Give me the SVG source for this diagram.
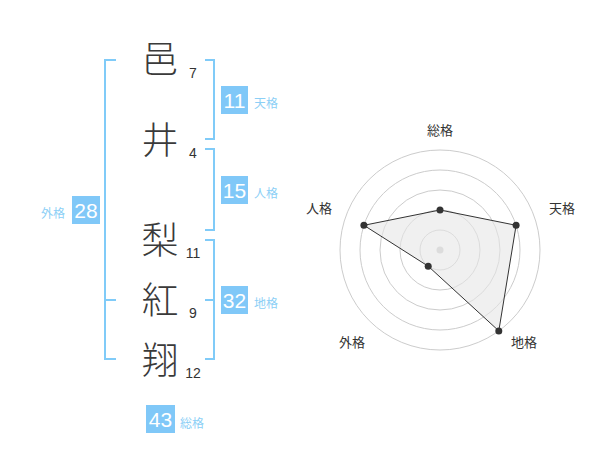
<svg xmlns="http://www.w3.org/2000/svg" width="600" height="470" viewBox="0 0 600 470">
<style>
.ch{font-family:"Noto Sans CJK JP","Noto Sans CJK SC",sans-serif;font-size:37px;font-weight:300;fill:#3a3a3a;text-anchor:middle}
.num{font-family:"Liberation Sans",Arial,sans-serif;font-size:14px;fill:#333;text-anchor:middle}
.br{fill:none;stroke:#80cbf8;stroke-width:2}
.box{fill:#80c8f8}
.bn{font-family:"Liberation Sans",Arial,sans-serif;font-size:21px;fill:#fff;text-anchor:middle}
.bl{font-family:"Noto Sans CJK JP",sans-serif;font-size:12px;fill:#8ccff6}
.rl{font-family:"Noto Sans CJK JP",sans-serif;font-size:13px;fill:#333;text-anchor:middle}
.ring{fill:none;stroke:#ccc;stroke-width:1}
.pt{fill:#333}
</style>
<g id="chars">
<g id="c1"><text class="ch" x="160" y="73">邑</text><text class="num" x="193" y="78">7</text></g>
<g id="c2"><text class="ch" x="160" y="154">井</text><text class="num" x="193" y="158">4</text></g>
<g id="c3"><text class="ch" x="160" y="254">梨</text><text class="num" x="193" y="258">11</text></g>
<g id="c4"><text class="ch" x="160" y="314">紅</text><text class="num" x="193" y="318">9</text></g>
<g id="c5"><text class="ch" x="160" y="374">翔</text><text class="num" x="193" y="378">12</text></g>
</g>
<g id="connectors">
<path class="br" d="M116,60 H105 V359 H116 M105,300 H116"/>
<path class="br" d="M205,60 H214 V139 H205"/>
<path class="br" d="M205,149 H214 V230 H205"/>
<path class="br" d="M205,240 H214 V359 H205 M205,300 H214"/>
</g>
<g id="tenkaku"><rect class="box" x="221" y="86" width="27" height="28"/><text class="bn" x="234.5" y="107.5">11</text><text class="bl" x="254" y="108">天格</text></g>
<g id="jinkaku"><rect class="box" x="221" y="176" width="27" height="28"/><text class="bn" x="234.5" y="197.5">15</text><text class="bl" x="254" y="198">人格</text></g>
<g id="gaikaku"><rect class="box" x="72" y="196" width="28" height="28"/><text class="bn" x="86" y="217.5">28</text><text class="bl" x="41" y="218">外格</text></g>
<g id="chikaku"><rect class="box" x="221" y="286" width="27" height="28"/><text class="bn" x="234.5" y="307.5">32</text><text class="bl" x="254" y="308">地格</text></g>
<g id="soukaku"><rect class="box" x="146" y="405" width="29" height="28"/><text class="bn" x="160.5" y="426.5">43</text><text class="bl" x="180" y="428">総格</text></g>
<g id="radar">
<circle class="ring" cx="440" cy="250" r="20"/>
<circle class="ring" cx="440" cy="250" r="40"/>
<circle class="ring" cx="440" cy="250" r="60"/>
<circle class="ring" cx="440" cy="250" r="80"/>
<circle class="ring" cx="440" cy="250" r="100"/>
<circle cx="440" cy="250" r="3.5" fill="#ccc"/>
<polygon points="440,210 516.1,225.3 498.8,330.9 428.2,266.2 363.9,225.3" fill="#e6e6e6" fill-opacity="0.6" stroke="#333" stroke-width="1"/>
<circle class="pt" cx="440" cy="210" r="3.5"/>
<circle class="pt" cx="516.1" cy="225.3" r="3.5"/>
<circle class="pt" cx="498.8" cy="330.9" r="3.5"/>
<circle class="pt" cx="428.2" cy="266.2" r="3.5"/>
<circle class="pt" cx="363.9" cy="225.3" r="3.5"/>
<text class="rl" x="440" y="134.5">総格</text>
<text class="rl" x="562" y="212.5">天格</text>
<text class="rl" x="319" y="212.5">人格</text>
<text class="rl" x="352" y="346.5">外格</text>
<text class="rl" x="524" y="346.5">地格</text>
</g>
</svg>
